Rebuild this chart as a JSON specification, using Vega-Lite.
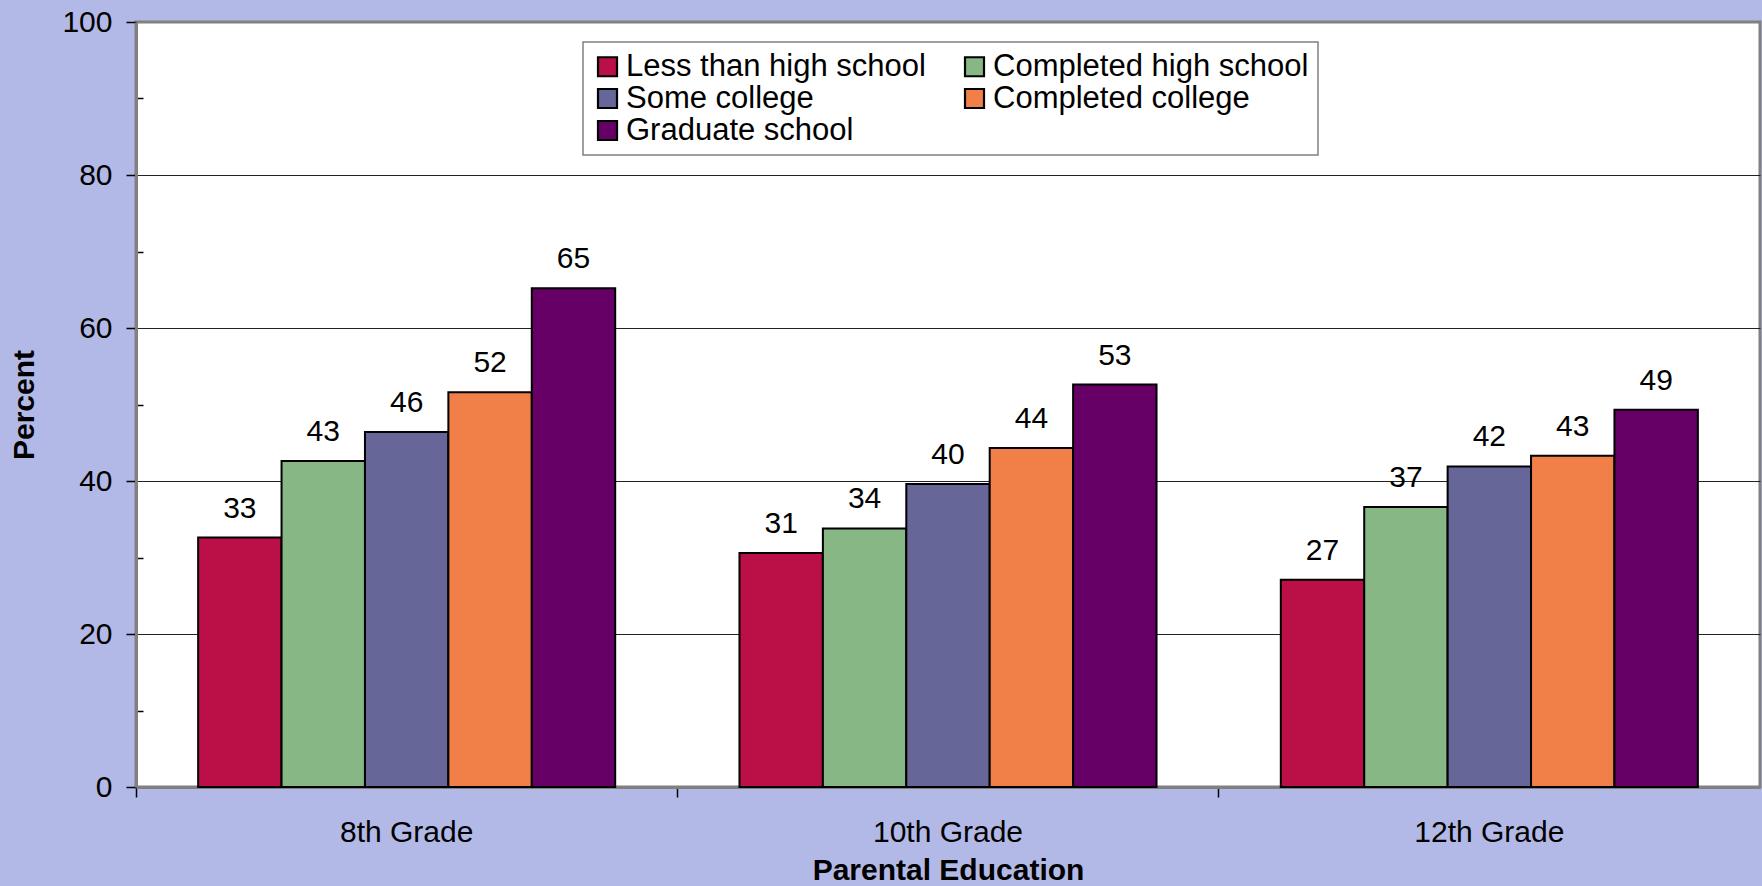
{
  "$schema": "https://vega.github.io/schema/vega-lite/v6.json",
  "width": 1624,
  "height": 765,
  "autosize": {"type": "none"},
  "padding": {"left": 136, "top": 22, "right": 2, "bottom": 99},
  "background": "#B3B9E6",
  "config": {
    "font": "Liberation Sans",
    "view": {"fill": "white", "stroke": "#808080", "strokeWidth": 3},
    "legend": {
      "orient": "none",
      "legendX": 447,
      "legendY": 20,
      "columns": 2,
      "symbolType": "square",
      "symbolSize": 361,
      "symbolStrokeColor": "black",
      "symbolStrokeWidth": 2.2,
      "labelFontSize": 31,
      "labelFont": "Liberation Sans",
      "labelColor": "black",
      "labelLimit": 500,
      "labelOffset": 3,
      "fillColor": "white",
      "strokeColor": "#808080",
      "strokeWidth": 1.5,
      "padding": 9,
      "columnPadding": 33,
      "rowPadding": 0
    }
  },
  "data": {
    "values": [
      {"grade": "8th Grade", "edu": "Less than high school", "pct": 32.6},
      {"grade": "8th Grade", "edu": "Completed high school", "pct": 42.6},
      {"grade": "8th Grade", "edu": "Some college", "pct": 46.4},
      {"grade": "8th Grade", "edu": "Completed college", "pct": 51.6},
      {"grade": "8th Grade", "edu": "Graduate school", "pct": 65.2},
      {"grade": "10th Grade", "edu": "Less than high school", "pct": 30.6},
      {"grade": "10th Grade", "edu": "Completed high school", "pct": 33.8},
      {"grade": "10th Grade", "edu": "Some college", "pct": 39.6},
      {"grade": "10th Grade", "edu": "Completed college", "pct": 44.3},
      {"grade": "10th Grade", "edu": "Graduate school", "pct": 52.6},
      {"grade": "12th Grade", "edu": "Less than high school", "pct": 27.1},
      {"grade": "12th Grade", "edu": "Completed high school", "pct": 36.6},
      {"grade": "12th Grade", "edu": "Some college", "pct": 41.9},
      {"grade": "12th Grade", "edu": "Completed college", "pct": 43.3},
      {"grade": "12th Grade", "edu": "Graduate school", "pct": 49.3}
    ]
  },
  "encoding": {
    "x": {
      "field": "grade",
      "type": "nominal",
      "sort": ["8th Grade", "10th Grade", "12th Grade"],
      "scale": {"paddingInner": 0, "paddingOuter": 0},
      "axis": {
        "title": "Parental Education",
        "titleFont": "Liberation Sans",
        "titleFontSize": 30,
        "titleFontWeight": "bold",
        "titleColor": "black",
        "titlePadding": 8,
        "labelAngle": 0,
        "labelFontSize": 30,
        "labelColor": "black",
        "labelPadding": 20,
        "bandPosition": 0,
        "tickSize": 10,
        "tickColor": "black",
        "tickWidth": 1.5,
        "domainColor": "#808080",
        "domainWidth": 3,
        "grid": false
      }
    },
    "xOffset": {
      "field": "edu",
      "type": "nominal",
      "sort": ["Less than high school", "Completed high school", "Some college", "Completed college", "Graduate school"],
      "scale": {"paddingInner": 0, "paddingOuter": 0.745}
    },
    "y": {
      "field": "pct",
      "type": "quantitative",
      "scale": {"domain": [0, 100], "nice": false},
      "axis": {
        "title": "Percent",
        "titleFont": "Liberation Sans",
        "titleFontSize": 30,
        "titleFontWeight": "bold",
        "titleColor": "black",
        "titlePadding": 22,
        "values": [0, 10, 20, 30, 40, 50, 60, 70, 80, 90, 100],
        "labelExpr": "datum.value % 20 === 0 ? datum.label : ''",
        "labelFontSize": 30,
        "labelColor": "black",
        "labelPadding": 14,
        "tickColor": "black",
        "tickWidth": 1.5,
        "tickSize": {"condition": {"test": "datum.value % 20 === 0", "value": 10}, "value": -7},
        "domainColor": "#808080",
        "domainWidth": 3,
        "grid": true,
        "gridColor": "#222222",
        "gridWidth": 1.2,
        "gridOpacity": {"condition": {"test": "datum.value % 20 === 0 && datum.value > 0 && datum.value < 100", "value": 1}, "value": 0}
      }
    }
  },
  "layer": [
    {
      "mark": {"type": "bar", "stroke": "black", "strokeWidth": 2, "opacity": 1},
      "encoding": {
        "color": {
          "field": "edu",
          "type": "nominal",
          "title": null,
          "scale": {
            "domain": ["Less than high school", "Some college", "Graduate school", "Completed high school", "Completed college"],
            "range": ["#BA0F47", "#666699", "#660066", "#86B784", "#F08048"]
          }
        }
      }
    },
    {
      "mark": {"type": "text", "baseline": "alphabetic", "dy": -20, "fontSize": 30, "font": "Liberation Sans", "color": "black"},
      "encoding": {
        "text": {"field": "pct", "type": "quantitative", "format": ".0f"}
      }
    }
  ]
}
